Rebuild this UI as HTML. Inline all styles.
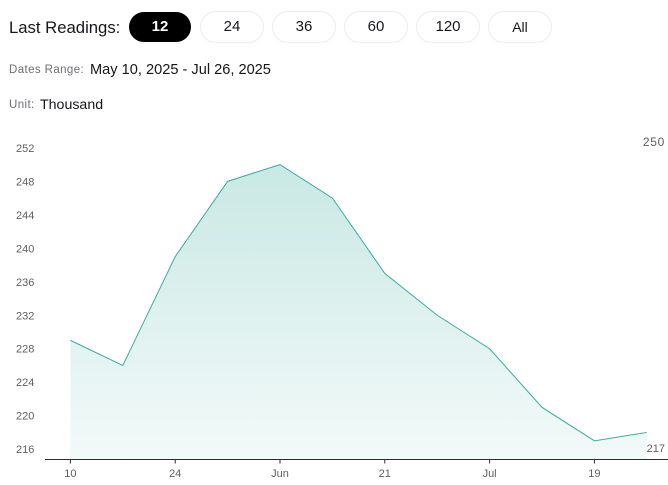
<!DOCTYPE html>
<html lang="en">
<head>
<meta charset="utf-8">
<title>Last Readings Chart</title>
<style>
  html, body { margin: 0; padding: 0; background: #fff; }
  body { width: 668px; height: 485px; position: relative; overflow: hidden; font-family: "Liberation Sans", sans-serif; color: #16161d; }
  .abs { position: absolute; white-space: nowrap; }
  .pill { position: absolute; top: 11px; width: 64px; height: 32px; box-sizing: border-box; border: 1px solid #ececec; border-radius: 16px; background: #fff; font: 15px/30px "Liberation Sans", sans-serif; text-align: center; color: #16161d; padding: 0; }
  .pill.active { top: 12px; left: 129px; width: 62px; height: 30px; background: #000; border-color: #000; color: #fff; font-weight: bold; line-height: 28px; }
  .small { font-size: 11.5px; color: #6d6d76; letter-spacing: .4px; }
  .value { font-size: 14.5px; color: #16161d; }
  svg { position: absolute; left: 0; top: 0; }
  svg text { font-family: "Liberation Sans", sans-serif; font-size: 11px; fill: #5f5f5f; }
</style>
</head>
<body>
  <div class="abs" style="left:9px;top:18px;font-size:16.7px;line-height:20px;">Last Readings:</div>
  <button class="pill active">12</button>
  <button class="pill" style="left:200px">24</button>
  <button class="pill" style="left:272px">36</button>
  <button class="pill" style="left:344px">60</button>
  <button class="pill" style="left:416px">120</button>
  <button class="pill" style="left:488px;font-size:14px">All</button>

  <div class="abs small" style="left:9px;top:63px;line-height:14px;">Dates Range:</div>
  <div class="abs value" style="left:90px;top:61px;line-height:18px;font-size:14.6px;">May 10, 2025 - Jul 26, 2025</div>
  <div class="abs small" style="left:9px;top:98px;line-height:14px;">Unit:</div>
  <div class="abs value" style="left:40px;top:96px;line-height:18px;font-size:14.2px;">Thousand</div>

  <svg id="chart" width="668" height="485" viewBox="0 0 668 485">
    <defs>
      <linearGradient id="areaFill" x1="0" y1="0" x2="0" y2="1">
        <stop offset="0" stop-color="#c9e8e4"></stop>
        <stop offset="1" stop-color="#f3faf9"></stop>
      </linearGradient>
    </defs>
  </svg>

<script>
const categories = ["May 10","May 17","May 24","May 31","Jun 7","Jun 14","Jun 21","Jun 28","Jul 5","Jul 12","Jul 19","Jul 26"];
const seriesValues = [229,226,239,248,250,246,237,232,228,221,217,218];
const yTickLabels = [216,220,224,228,232,236,240,244,248,252];
const xTickLabels = ["10","","24","","Jun","","21","","Jul","","19",""];
const maxLabel = "250";
const minLabel = "217";

const svgNS = "http://www.w3.org/2000/svg";
const chart = document.getElementById("chart");
const x = i => 70.4 + i * 52.4;
const y = v => 164.6 + (250 - v) * 8.37;
const baseY = 459.5;

function make(tag, attrs, text) {
  const el = document.createElementNS(svgNS, tag);
  for (const k in attrs) el.setAttribute(k, attrs[k]);
  if (text !== undefined) el.textContent = text;
  chart.appendChild(el);
  return el;
}

const linePts = seriesValues.map((v, i) => x(i) + "," + y(v)).join(" ");
const last = seriesValues.length - 1;

const area = make("polygon", { points: x(0) + "," + baseY + " " + linePts + " " + x(last) + "," + baseY, fill: "url(#areaFill)" });



const line = make("polyline", { points: linePts, fill: "none", stroke: "#35aea2", "stroke-width": 1 });



const axis = make("line", { x1: 45, x2: 668, y1: baseY, y2: baseY, stroke: "#2b2b3d", "stroke-width": 1 });



yTickLabels.forEach(v => {
  const t = make("text", { x: 16, y: y(v) + 4 }, String(v));
  
  
});

xTickLabels.forEach((label, i) => {
  if (!label) return;
  const tick = make("line", { x1: x(i), x2: x(i), y1: baseY, y2: baseY + 4, stroke: "#2b2b3d", "stroke-width": 1 });
  
  
  const t = make("text", { x: x(i), y: 477, "text-anchor": "middle" }, label);
  
  
});

const maxText = make("text", { x: 665, y: 146, "text-anchor": "end", "letter-spacing": "0.7", "font-size": "12", style: "font-size:12px" }, maxLabel);



const minText = make("text", { x: 665, y: 452, "text-anchor": "end" }, minLabel);


</script>
</body>
</html>
